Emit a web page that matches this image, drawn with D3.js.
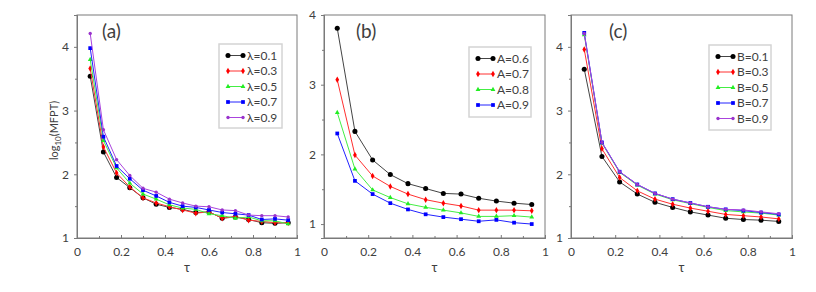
<!DOCTYPE html>
<html>
<head>
<meta charset="utf-8">
<script src="https://d3js.org/d3.v7.min.js"></script>
<style>
  body { margin: 0; background: #fff; }
  text { font-family: Lato, "Open Sans", sans-serif; fill: #404040; }
</style>
</head>
<body>
<div id="chart"></div>
<script>
// tau values on the x axis
var tauA = [0.06, 0.12, 0.18, 0.24, 0.30, 0.36, 0.42, 0.48, 0.54, 0.60, 0.66, 0.72, 0.78, 0.84, 0.90, 0.96];
var tauBC = [0.06, 0.14, 0.22, 0.30, 0.38, 0.46, 0.54, 0.62, 0.70, 0.78, 0.86, 0.94];

// panel (a): lambda series
var namesA = ["λ=0.1", "λ=0.3", "λ=0.5", "λ=0.7", "λ=0.9"];
var lambda01 = [3.54, 2.35, 1.95, 1.79, 1.63, 1.53, 1.48, 1.45, 1.40, 1.41, 1.31, 1.33, 1.29, 1.24, 1.23, 1.24];
var lambda03 = [3.66, 2.43, 2.02, 1.80, 1.63, 1.55, 1.49, 1.44, 1.39, 1.41, 1.31, 1.34, 1.28, 1.26, 1.24, 1.24];
var lambda05 = [3.80, 2.53, 2.10, 1.86, 1.69, 1.61, 1.52, 1.47, 1.45, 1.38, 1.35, 1.31, 1.33, 1.27, 1.27, 1.22];
var lambda07 = [3.98, 2.59, 2.13, 1.93, 1.75, 1.66, 1.56, 1.50, 1.48, 1.44, 1.40, 1.38, 1.36, 1.29, 1.30, 1.28];
var lambda09 = [4.21, 2.70, 2.23, 1.98, 1.78, 1.72, 1.61, 1.55, 1.50, 1.49, 1.44, 1.43, 1.36, 1.35, 1.35, 1.33];

// panel (b): A series
var namesB = ["A=0.6", "A=0.7", "A=0.8", "A=0.9"];
var a06 = [3.81, 2.33, 1.92, 1.71, 1.58, 1.51, 1.44, 1.43, 1.37, 1.33, 1.30, 1.28];
var a07 = [3.07, 1.99, 1.69, 1.54, 1.43, 1.35, 1.30, 1.26, 1.20, 1.20, 1.20, 1.19];
var a08 = [2.60, 1.79, 1.49, 1.38, 1.29, 1.24, 1.20, 1.16, 1.11, 1.11, 1.12, 1.10];
var a09 = [2.30, 1.62, 1.43, 1.30, 1.21, 1.14, 1.10, 1.07, 1.04, 1.06, 1.02, 1.00];

// panel (c): B series
var namesC = ["B=0.1", "B=0.3", "B=0.5", "B=0.7", "B=0.9"];
var b01 = [3.65, 2.28, 1.88, 1.69, 1.56, 1.48, 1.41, 1.36, 1.31, 1.29, 1.28, 1.26];
var b03 = [3.96, 2.40, 1.95, 1.74, 1.61, 1.53, 1.47, 1.42, 1.37, 1.35, 1.33, 1.30];
var b05 = [4.19, 2.49, 2.03, 1.83, 1.69, 1.60, 1.54, 1.48, 1.43, 1.41, 1.39, 1.36];
var b07 = [4.22, 2.50, 2.04, 1.84, 1.70, 1.61, 1.55, 1.49, 1.45, 1.43, 1.40, 1.37];
var b09 = [4.21, 2.50, 2.04, 1.84, 1.70, 1.61, 1.55, 1.49, 1.45, 1.44, 1.41, 1.38];

// tick labels
var xTicks = [0, 0.2, 0.4, 0.6, 0.8, 1];
var yTicksAC = [1, 2, 3, 4];
var yTicksB = [1, 2, 3, 4];

window.onload = function() {
  main();
};

function main() {
  var svg = d3.select("#chart")
    .append("svg")
    .attr("width", 816)
    .attr("height", 292);

  // series styles (colour, marker)
  var styles = [
    {color: "#000000", line: "#444444", symbol: d3.symbolCircle, size: 20},
    {color: "#ff0000", line: "#ff3030", symbol: d3.symbolDiamond, size: 12},
    {color: "#22ee22", line: "#44ee44", symbol: d3.symbolTriangle, size: 10},
    {color: "#0000ff", line: "#2222ff", symbol: d3.symbolSquare, size: 14},
    {color: "#9933cc", line: "#aa44dd", symbol: d3.symbolCircle, size: 9}
  ];

  var panels = [
    {label: "(a)", left: 77, right: 297, yDomain: [1, 4.5], yTicks: yTicksAC, x: tauA,
      series: [lambda01, lambda03, lambda05, lambda07, lambda09], names: namesA,
      legend: {x: 219, y: 44, w: 63, h: 84}, labelX: 102, yLabel: true},
    {label: "(b)", left: 324, right: 545, yDomain: [0.8, 4], yTicks: yTicksB, x: tauBC,
      series: [a06, a07, a08, a09], names: namesB,
      legend: {x: 469, y: 47, w: 62, h: 70}, labelX: 356, yLabel: false},
    {label: "(c)", left: 571, right: 792, yDomain: [1, 4.5], yTicks: yTicksAC, x: tauBC,
      series: [b01, b03, b05, b07, b09], names: namesC,
      legend: {x: 709, y: 45, w: 62, h: 85}, labelX: 609, yLabel: false}
  ];

  panels.forEach(function(p) {
    drawPanel(svg, p, styles);
  });
}

function drawPanel(svg, p, styles) {
  var top = 15, bottom = 238;

  var x = d3.scaleLinear().domain([0, 1]).range([p.left, p.right]);
  var y = d3.scaleLinear().domain(p.yDomain).range([bottom, top]);

  var g = svg.append("g");

  // frame around the plot
  g.append("rect")
    .attr("x", p.left)
    .attr("y", top)
    .attr("width", p.right - p.left)
    .attr("height", bottom - top)
    .attr("fill", "none")
    .attr("stroke", "#7a7a7a")
    .attr("stroke-width", 1);

  // x axis: major + minor ticks pointing inward
  var xAxis = d3.axisBottom(x).tickValues(xTicks).tickSize(-3).tickPadding(9)
    .tickFormat(function(d) { return d === 0 || d === 1 ? d3.format("d")(d) : d3.format(".1f")(d); });
  var xg = g.append("g").attr("transform", "translate(0," + bottom + ")").call(xAxis);
  var xMinor = d3.axisBottom(x).tickValues(d3.range(0.1, 1, 0.2)).tickSize(-2).tickFormat("");
  var xmg = g.append("g").attr("transform", "translate(0," + bottom + ")").call(xMinor);

  // y axis: ticks pointing outward, minor ticks halfway
  var yAxis = d3.axisLeft(y).tickValues(p.yTicks).tickSize(3).tickPadding(5).tickFormat(d3.format("d"));
  var yg = g.append("g").attr("transform", "translate(" + p.left + ",0)").call(yAxis);
  var minorY = p.yTicks.map(function(d) { return d + 0.5; })
    .filter(function(d) { return d <= p.yDomain[1]; });
  var yMinor = d3.axisLeft(y).tickValues(minorY).tickSize(2).tickFormat("");
  var ymg = g.append("g").attr("transform", "translate(" + p.left + ",0)").call(yMinor);

  [xg, xmg, yg, ymg].forEach(function(a) {
    a.select(".domain").attr("stroke", "#7a7a7a");
    a.selectAll(".tick line").attr("stroke", "#7a7a7a");
    a.selectAll("text").attr("font-size", 12).attr("fill", "#404040")
      .style("font-family", "Lato, 'Open Sans', sans-serif");
  });

  // x label
  g.append("text")
    .attr("x", (p.left + p.right) / 2)
    .attr("y", 272)
    .attr("text-anchor", "middle")
    .attr("font-size", 13)
    .text("τ");

  // y label (only first panel)
  if (p.yLabel) {
    var yl = g.append("text")
      .attr("transform", "translate(58," + ((top + bottom) / 2 + 4) + ") rotate(-90)")
      .attr("text-anchor", "middle")
      .attr("font-size", 11);
    yl.append("tspan").text("log");
    yl.append("tspan").attr("font-size", 8).attr("dy", 3).text("10");
    yl.append("tspan").attr("dy", -3).text("(MFPT)");
  }

  // panel label
  g.append("text")
    .attr("x", p.labelX)
    .attr("y", 38)
    .attr("font-size", 19)
    .attr("fill", "#222")
    .text(p.label);

  // lines and markers
  var line = d3.line()
    .x(function(d) { return x(d[0]); })
    .y(function(d) { return y(d[1]); });

  p.series.forEach(function(vals, i) {
    var st = styles[i];
    var pts = vals.map(function(v, j) { return [p.x[j], v]; });

    g.append("path")
      .datum(pts)
      .attr("d", line)
      .attr("fill", "none")
      .attr("stroke", st.line)
      .attr("stroke-width", 1);

    g.selectAll(".m" + i)
      .data(pts)
      .enter()
      .append("path")
      .attr("transform", function(d) { return "translate(" + x(d[0]) + "," + y(d[1]) + ")"; })
      .attr("d", d3.symbol().type(st.symbol).size(st.size))
      .attr("fill", st.color);
  });

  // legend box
  var lg = g.append("g");
  lg.append("rect")
    .attr("x", p.legend.x)
    .attr("y", p.legend.y)
    .attr("width", p.legend.w)
    .attr("height", p.legend.h)
    .attr("fill", "#fff")
    .attr("stroke", "#d4d4d4")
    .attr("stroke-width", 1.5);

  var rowH = 15.5;
  var firstRow = p.legend.y + 11.5;
  p.names.forEach(function(name, i) {
    var st = styles[i];
    var ry = firstRow + i * rowH;
    var x0 = p.legend.x + 9, x1 = p.legend.x + 24;
    lg.append("line")
      .attr("x1", x0).attr("x2", x1)
      .attr("y1", ry).attr("y2", ry)
      .attr("stroke", st.line)
      .attr("stroke-width", 1);
    [x0, x1].forEach(function(mx) {
      lg.append("path")
        .attr("transform", "translate(" + mx + "," + ry + ")")
        .attr("d", d3.symbol().type(st.symbol).size(st.size))
        .attr("fill", st.color);
    });
    lg.append("text")
      .attr("x", x1 + 4)
      .attr("y", ry + 4)
      .attr("font-size", 12)
      .text(name);
  });
}
</script>
</body>
</html>
